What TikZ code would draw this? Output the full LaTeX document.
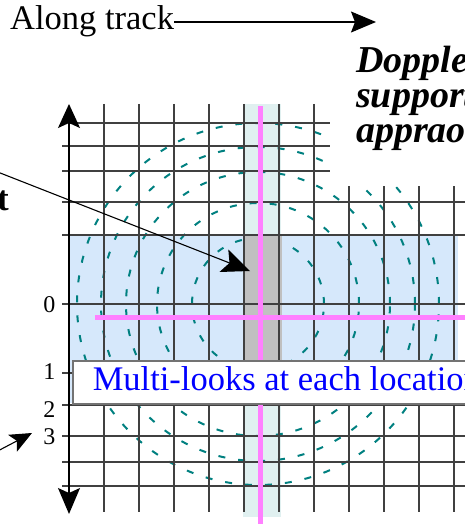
\documentclass[tikz,border=0pt]{standalone}
\usepackage{fontspec}
\setmainfont{Liberation Serif}
\usetikzlibrary{arrows.meta}
\definecolor{swath}{HTML}{D6E8FB}
\definecolor{lookband}{HTML}{E0F0F0}
\definecolor{cellgray}{HTML}{C0C0C0}
\definecolor{crosspink}{HTML}{FF80FF}
\definecolor{dopteal}{HTML}{008080}

\begin{document}
\begin{tikzpicture}[x=1pt,y=-1pt,
    gridline/.style={black!75,line width=1.3pt},
    isodop/.style={dopteal,line width=2pt,dash pattern=on 7pt off 13pt},
    pinkline/.style={crosspink,line width=5pt},
    bigfont/.style={font=\fontsize{34.5}{34}\selectfont}]
  \useasboundingbox (0,0) rectangle (465,524);

  % swath, look band and the cell
  \fill[swath] (69,235) rectangle (458,403);
  \fill[lookband] (243,104) rectangle (281,517);
  \coordinate (dopc) at (258,304);
  \foreach \r in {66,101,132,157,181}
    \draw[isodop] (dopc) circle[radius=\r pt];
  \fill[cellgray] (243,235) rectangle (282,362);

  % grid
  \foreach \gx in {104,139,174,209,244,279,314}
    \draw[gridline] (\gx,104) -- (\gx,512);
  \foreach \gx in {349,384,419,454}
    \draw[gridline] (\gx,186) -- (\gx,512);
  \draw[gridline] (69,123) -- (330,123);
  \foreach \gy in {146,171}
    \draw[gridline] (62,\gy) -- (330,\gy);
  \foreach \gy in {202,235,304,373,405,436,462,486}
    \draw[gridline] (62,\gy) -- (470,\gy);

  \coordinate (axtop) at (69,104);
  \coordinate (axbot) at (69,514);
  \draw[line width=1.4pt,{Stealth[length=24pt,width=22pt,inset=5pt]}-{Stealth[length=26pt,width=22pt,inset=5pt]}]
    (axtop) -- (axbot);

  \draw[pinkline] (260,106) -- (260,530);
  \draw[pinkline] (95,317) -- (470,317);

  % top right text
  \fill[white] (330,40) rectangle (470,186);
  \node[anchor=north west,inner sep=0,align=left,
        font=\fontsize{38}{35}\selectfont\bfseries\itshape] (doppler)
    at (356,46) {Doppler\\support\\appraoch};

  \node[anchor=north west,draw=black!55,line width=1.6pt,fill=white,
        minimum height=43pt,inner xsep=20pt,inner ysep=6pt,
        text height=24pt,text depth=7pt,text=blue,bigfont] (looks)
    at (72,360) {Multi-looks at each location};

  \foreach \lab/\ly in {0/305,1/372,2/410,3/437}
    \node[anchor=east,inner sep=0,font=\fontsize{24}{24}\selectfont] (tick\lab)
      at (55.5,\ly) {\lab};

  % along track
  \node[anchor=base west,inner sep=0,bigfont] (along) at (10,30) {Along track};
  \coordinate (alongend) at (376,22);
  \draw[line width=1.2pt,-{Stealth[length=25pt,width=21pt,inset=4pt]}]
    (along.east |- alongend) -- (alongend);

  % target
  \node[anchor=base east,inner sep=0,font=\fontsize{35}{35}\selectfont\bfseries] (target)
    at (9,210) {t};
  \coordinate (tgtfrom) at (-10,169);
  \coordinate (tgttip) at (250,271);
  \draw[line width=1.1pt,-{Stealth[length=28pt,width=24pt,inset=6pt]}]
    (tgtfrom) -- (tgttip);

  \coordinate (lowfrom) at (-8,454);
  \coordinate (lowtip) at (32,433);
  \draw[line width=1.1pt,-{Stealth[length=22pt,width=19pt,inset=5pt]}]
    (lowfrom) -- (lowtip);
\end{tikzpicture}
\end{document}
